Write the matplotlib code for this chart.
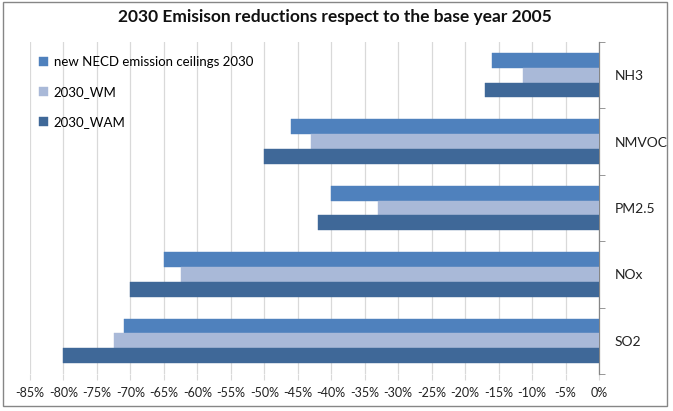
import matplotlib
matplotlib.use("Agg")
import matplotlib.pyplot as plt
from matplotlib.patches import Rectangle
import numpy as np

plt.rcParams['font.family'] = ['Lato', 'DejaVu Sans']

categories = ["SO2", "NOx", "PM2.5", "NMVOC", "NH3"]
series_names = ["new NECD emission ceilings 2030", "2030_WM", "2030_WAM"]
necd = [-71, -65, -40, -46, -16]
wm = [-72.5, -62.5, -33, -43, -11.3]
wam = [-80, -70, -42, -50, -17]
colors = ["#4F81BD", "#A9B9D8", "#3F6898"]
xticks = list(range(-85, 1, 5))
xtick_labels = [f"{t}%" for t in xticks]

W, H = 673, 411
fig = plt.figure(figsize=(W / 100, H / 100), dpi=100)
fig.patch.set_facecolor("white")

# outer chart frame
fig.add_artist(Rectangle((3 / W, 1 - 406 / H), (667 - 3) / W, (406 - 2) / H,
                         transform=fig.transFigure, fill=False,
                         edgecolor="#868686", linewidth=1.0))

left, right, top, bottom = 30, 599, 42, 374
ax = fig.add_axes([left / W, 1 - bottom / H, (right - left) / W, (bottom - top) / H])

y = np.arange(len(categories))
h = 0.222
series = [necd, wm, wam]
offsets = [h, 0, -h]
for vals, off, c, name in zip(series, offsets, colors, series_names):
    ax.barh(y + off, vals, height=h, color=c, label=name, zorder=3,
            edgecolor=c, linewidth=0.3)

ax.set_xlim(-85, 0)
ax.set_ylim(-0.5, len(categories) - 0.5)
ax.set_xticks(xticks)
ax.set_xticklabels(xtick_labels, fontsize=9, color="#222222")
ax.grid(axis="x", color="#D9D9D9", linewidth=0.9, zorder=0)
ax.tick_params(axis="x", length=4, color="#D9D9D9", pad=5)

ax.yaxis.tick_right()
ax.set_yticks(y)
ax.set_yticklabels(categories, fontsize=10, color="#222222")
ax.set_yticks(np.arange(-0.5, len(categories), 1), minor=True)
ax.tick_params(axis="y", which="major", length=0, pad=11)
ax.tick_params(axis="y", which="minor", length=4, color="#868686", direction="out")

for s in ["top", "left", "bottom"]:
    ax.spines[s].set_visible(False)
ax.spines["right"].set_color("#868686")
ax.spines["right"].set_linewidth(0.9)

fig.text(335 / W, 1 - 17 / H, "2030 Emisison reductions respect to the base year 2005",
         ha="center", va="center", fontsize=12.5, fontweight="bold", color="#111111")

leg = ax.legend(loc="upper left", bbox_to_anchor=(0.0, 0.985), frameon=False,
                fontsize=9.5, labelspacing=1.35, handlelength=0.7, handleheight=0.7,
                handletextpad=0.4, borderaxespad=0.3)

fig.savefig("out.png", dpi=100)
